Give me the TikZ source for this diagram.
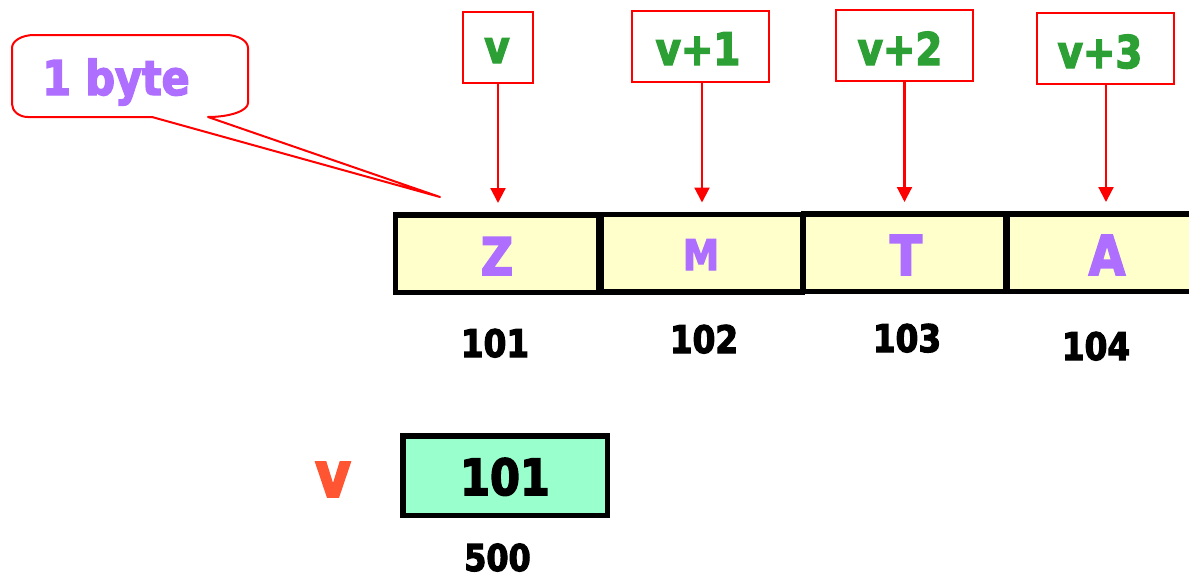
\documentclass[tikz,border=0pt]{standalone}
\usepackage{fontspec}
\setmainfont{DejaVu Sans}[FakeStretch=0.86, FakeBold=3]
\usetikzlibrary{arrows.meta}
\definecolor{ptrred}{HTML}{FF0000}
\definecolor{charpurple}{HTML}{AE6EFF}
\definecolor{ptrgreen}{HTML}{2CA034}
\definecolor{cellyellow}{HTML}{FFFFCC}
\definecolor{varmint}{HTML}{99FFCC}
\definecolor{varorange}{HTML}{FF5533}
\newcommand\fsz[1]{\fontsize{#1}{#1}\selectfont\bfseries}

\begin{document}
\begin{tikzpicture}[x=1pt,y=-1pt,
  cell/.style={draw=black, line width=5.5pt, fill=cellyellow, inner sep=0pt,
               minimum height=77.5pt},
  ptrbox/.style={draw=ptrred, line width=2pt, inner sep=0pt,
                 minimum width=137.5pt, minimum height=71.5pt},
  ptrlabel/.style={anchor=base, inner sep=0pt, text=ptrgreen, font=\fsz{45}},
  charlabel/.style={anchor=base, inner sep=0pt, text=charpurple},
  addr/.style={anchor=base, inner sep=0pt, text=black, font=\fsz{38}},
  ptr/.style={draw=ptrred, line width=2.2pt, shorten >=9pt,
              -{Triangle[width=15pt,length=15pt]}}
]
\useasboundingbox (0,0) rectangle (1189,579);

% memory cells
\node[cell, minimum width=203pt] (zc) at (497,253.5) {};
\node[cell, minimum width=201pt] (mc) at (702,253) {};
\node[cell, minimum width=202pt] (tc) at (904.5,252.5) {};
\node[cell, minimum width=208pt] (ac) at (1111.5,252.5) {};

% characters stored in the cells
\node[charlabel, font=\fsz{52}] (zch) at (497,275) {Z};
\node[charlabel, font=\fsz{42}] (mch) at (701,270) {M};
\node[charlabel, font=\fsz{55}] (tch) at (906,275) {T};
\node[charlabel, font=\fsz{55}] (ach) at (1107,275) {A};

% addresses
\node[addr] (a101) at (495,357) {101};
\node[addr] (a102) at (704,353) {102};
\node[addr] (a103) at (907,352) {103};
\node[addr] (a104) at (1096,360) {104};

% pointer expressions
\node[ptrbox, minimum width=69.5pt, minimum height=71pt] (pv) at (498,47) {};
\node[ptrbox, minimum height=71pt] (pv1) at (700.5,46) {};
\node[ptrbox] (pv2) at (904.5,45.5) {};
\node[ptrbox] (pv3) at (1105.5,48.5) {};
\node[ptrlabel] (tv) at (497,63) {v};
\node[ptrlabel] (tv1) at (698,65) {v+1};
\node[ptrlabel] (tv2) at (900,65) {v+2};
\node[ptrlabel] (tv3) at (1100,68) {v+3};

\draw[ptr] (pv.south) -- (pv.south |- zc.north);
\draw[ptr] (pv1.south -| 702,0) -- (702,0 |- mc.north);
\draw[ptr] (pv2.south) -- (pv2.south |- tc.north);
\draw[ptr] (pv3.south -| 1106,0) -- (1106,0 |- ac.north);

% callout
\coordinate (tip) at (440,197);
\draw[draw=ptrred, line width=2pt, fill=white, line join=round]
  (tip) -- (152,117) -- (28,117)
  arc[start angle=270, end angle=180, x radius=16pt, y radius=13pt] -- (12,48)
  arc[start angle=180, end angle=90, x radius=22pt, y radius=13pt] -- (226,35)
  arc[start angle=90, end angle=0, x radius=22pt, y radius=13pt] -- (248,103)
  arc[start angle=0, end angle=-90, x radius=40pt, y radius=14pt] -- cycle;
\node[charlabel, font=\fsz{48}] (byte) at (116,95) {1 byte};

% pointer variable
\node[draw=black, line width=5.5pt, fill=varmint, inner sep=0pt,
      minimum width=204.5pt, minimum height=79.5pt] (vbox) at (505,475.5) {};
\node[anchor=base, inner sep=0pt, font=\fsz{50}] (vval) at (505,495) {101};
\node[anchor=base, inner sep=0pt, text=varorange, font=\fsz{64}] (vname) at (333,497) {v};
\node[addr, font=\fsz{37}] (a500) at (497.5,571) {500};
\end{tikzpicture}
\end{document}
